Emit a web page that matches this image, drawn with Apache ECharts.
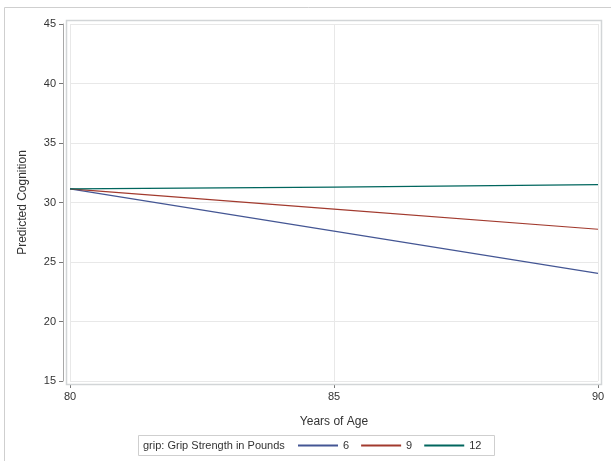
<!DOCTYPE html>
<html>
<head>
<meta charset="utf-8">
<script src="https://cdn.jsdelivr.net/npm/echarts@6/dist/echarts.min.js"></script>
<style>
  html, body { margin: 0; padding: 0; background: #fff; }
  #chart { width: 611px; height: 461px; }
</style>
</head>
<body>
<div id="chart"></div>
<script>
// years of age on the x axis
const ages = [80, 85, 90]
// predicted cognition per grip strength level
const grip6 = [31.15, 27.6, 24.05]
const grip9 = [31.15, 29.45, 27.75]
const grip12 = [31.15, 31.3, 31.5]
const gripNames = ['6', '9', '12']
const colors = ['#445694', '#A23A2E', '#01665E']

const font = '"Liberation Sans", Arial, sans-serif'
const chart = echarts.init(document.getElementById('chart'))

function mk(name, vals, color) {
  return {
    name: name,
    type: 'line',
    data: ages.map((a, i) => [a, vals[i]]),
    symbol: 'none',
    lineStyle: { color: color, width: 1.2 },
    itemStyle: { color: color },
  }
}

chart.setOption({
  animation: false,
  grid: { left: 70, right: 13, top: 24, bottom: 80 },
  xAxis: {
    type: 'value', min: 80, max: 90, interval: 5,
    offset: 3,
    name: 'Years of Age', nameLocation: 'middle', nameGap: 32,
    nameTextStyle: { color: '#333', fontSize: 12, fontFamily: font },
    axisLine: { show: true, lineStyle: { color: '#a8a8a8' } },
    axisTick: { show: true, length: 4, lineStyle: { color: '#777' } },
    axisLabel: { color: '#333', fontSize: 11, fontFamily: font, margin: 7 },
    splitLine: { show: true, lineStyle: { color: '#e8e8e8' } },
  },
  yAxis: {
    type: 'value', min: 15, max: 45, interval: 5,
    offset: 7,
    name: 'Predicted Cognition', nameLocation: 'middle', nameGap: 34,
    nameTextStyle: { color: '#333', fontSize: 12, fontFamily: font },
    axisLine: { show: true, lineStyle: { color: '#a8a8a8' } },
    axisTick: { show: true, length: 4, lineStyle: { color: '#777' } },
    axisLabel: { color: '#333', fontSize: 11, fontFamily: font, margin: 7 },
    splitLine: { show: true, lineStyle: { color: '#e8e8e8' } },
  },
  legend: {
    data: gripNames,
    left: 297, top: 440, padding: 0,
    itemWidth: 40, itemHeight: 11, itemGap: 11,
    itemStyle: { opacity: 0 },
    textStyle: { color: '#333', fontSize: 11, fontFamily: font },
  },
  graphic: [
    { type: 'rect', shape: { x: 4.5, y: 7.5, width: 700, height: 500 },
      style: { fill: 'none', stroke: '#cfcfcf', lineWidth: 1 }, silent: true },
    { type: 'rect', shape: { x: 66.5, y: 20.5, width: 535, height: 364 },
      style: { fill: 'none', stroke: '#d2d5d7', lineWidth: 1.5 }, silent: true, z: 10 },
    { type: 'rect', shape: { x: 138.5, y: 435.5, width: 356, height: 20 },
      style: { fill: 'none', stroke: '#cfcfcf', lineWidth: 1 }, silent: true },
    { type: 'text', left: 143, top: 440,
      style: { text: 'grip: Grip Strength in Pounds', fill: '#333', font: '11px ' + font } },
  ],
  series: [
    mk('6', grip6, colors[0]),
    mk('9', grip9, colors[1]),
    mk('12', grip12, colors[2]),
  ],
})
</script>
</body>
</html>
